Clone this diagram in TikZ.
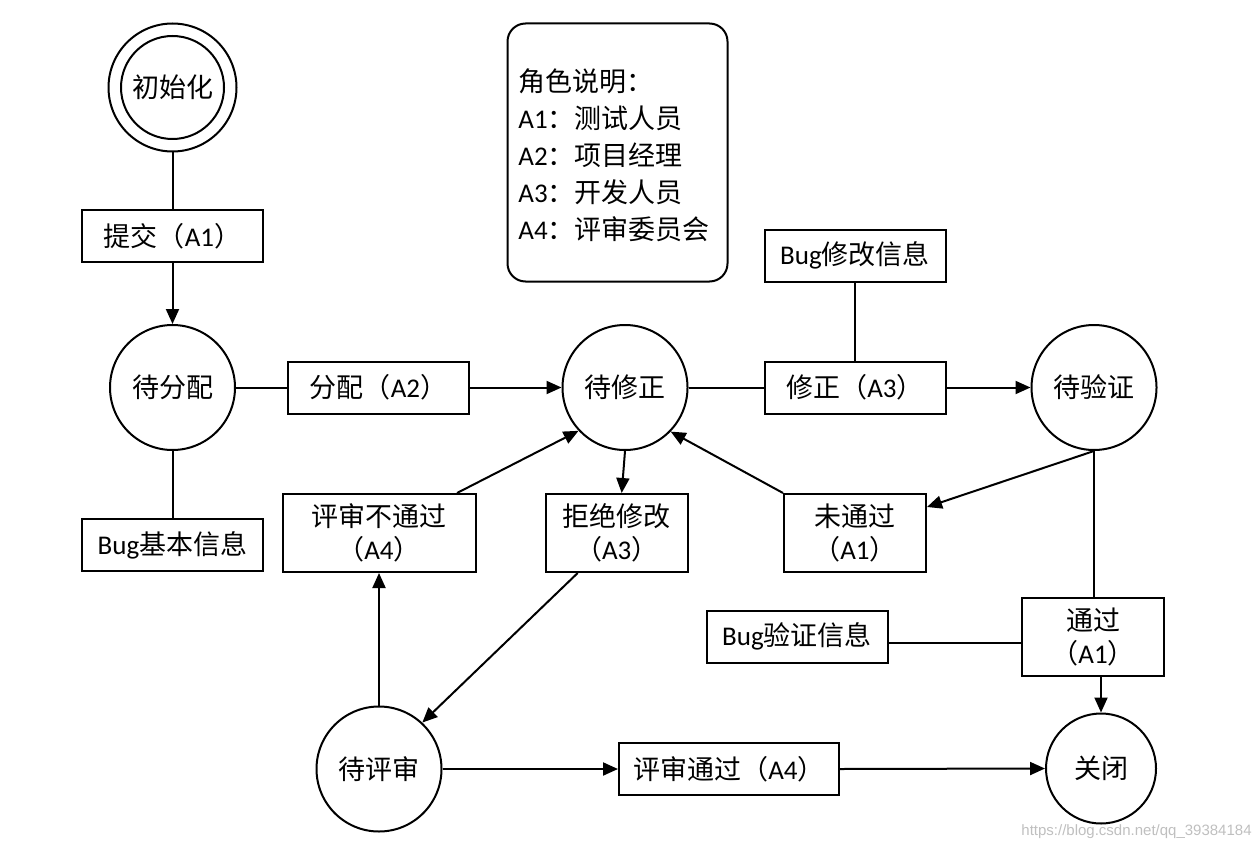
\documentclass[tikz,border=0pt]{standalone}
\usepackage{fontspec}
\setmainfont{Noto Sans CJK SC}
\newfontfamily\lat{Carlito}
\newfontfamily\wm{Liberation Sans}
\usetikzlibrary{arrows.meta,calc}
\begin{document}
\begin{tikzpicture}[x=0.5pt,y=-0.5pt,
  every node/.style={font=\fontsize{13.5}{16.5}\selectfont, inner sep=0pt},
  state/.style={circle, draw, line width=1pt, minimum size=62.5pt},
  rbox/.style={rectangle, draw, line width=1pt, minimum width=#1, minimum height=26pt, align=center},
  rbox/.default=90.5pt,
  tbox/.style={rectangle, draw, line width=1pt, minimum width=#1, minimum height=39pt, align=center},
  tbox/.default=71pt,
  link/.style={line width=1pt},
  arr/.style={line width=1pt, -{Triangle[length=7.5pt,width=6.5pt]}}
]
\useasboundingbox (0,0) rectangle (1256,850);

% states
\node[state, minimum size=64pt] (init) at (172.5,87.5) {};
\node[state, minimum size=51.5pt] (initin) at (172.5,87.5) {初始化};
\node[state] (dfp) at (172.5,387.5) {待分配};
\node[state] (dxz) at (625,387.5) {待修正};
\node[state] (dyz) at (1094,387.5) {待验证};
\node[state] (dps) at (379,769) {待评审};
\node[state, minimum size=55pt] (close) at (1101,768.5) {关闭};

% boxes
\node[rbox] (submit) at (172.5,236) {提交（{\lat A1}）};
\node[rbox] (bugbasic) at (172.5,545) {{\lat Bug}基本信息};
\node[rbox] (assign) at (378.5,387.5) {分配（{\lat A2}）};
\node[rbox] (fix) at (855,387.5) {修正（{\lat A3}）};
\node[rbox] (bugmod) at (855,255.5) {{\lat Bug}修改信息};
\node[tbox=96.5pt] (rej4) at (379,533) {评审不通过\\（{\lat A4}）};
\node[tbox] (reject) at (616.7,533) {拒绝修改\\（{\lat A3}）};
\node[tbox] (notpass) at (855,533) {未通过\\（{\lat A1}）};
\node[tbox] (pass) at (1093,636.7) {通过\\（{\lat A1}）};
\node[rbox] (bugver) at (797,636.7) {{\lat Bug}验证信息};
\node[rbox=110pt] (approve) at (729,769) {评审通过（{\lat A4}）};

% legend
\node[draw, line width=1pt, rounded corners=9pt, minimum width=110pt, minimum height=129pt] (legend) at (617.5,152.5) {};
\node[align=left, anchor=west, font=\fontsize{13.5}{18.5}\selectfont] (legtext) at (518,155)
  {角色说明：\\{\lat A1}：测试人员\\{\lat A2}：项目经理\\{\lat A3}：开发人员\\{\lat A4}：评审委员会};

% connectors
\draw[link] (init.south) -- (submit.north);
\draw[arr] (submit.south) -- (dfp.north);
\draw[link] (dfp.east) -- (assign.west);
\draw[arr] (assign.east) -- (dxz.west);
\draw[link] (dfp.south) -- (bugbasic.north);
\draw[link] (dxz.east) -- (fix.west);
\draw[arr] (fix.east) -- (dyz.west);
\draw[link] (bugmod.south) -- (fix.north);
\draw[arr] (dyz.south) -- ($(notpass.east)+(0,-26)$);
\draw[arr] (notpass.north west) -- (dxz.-44);
\draw[link] (dyz.south) -- (dyz.south |- pass.north);
\draw[arr] (pass.south -| close.north) -- (close.north);
\draw[link] ($(bugver.east)+(0,6)$) -- ($(pass.west)+(0,6)$);
\draw[arr] (dxz.south) -- ($(reject.north)+(5,0)$);
\draw[arr] ($(reject.south)+(-39,0)$) -- (dps.47);
\draw[arr] (dps.north) -- (rej4.south);
\draw[arr] ($(rej4.north)+(78,0)$) -- (dxz.-137);
\draw[arr] (dps.east) -- (approve.west);
\draw[arr] (approve.east) -- (close.west);

% watermark
\node[anchor=east, text=black!25, font=\wm\fontsize{7.5}{9}\selectfont] (wmark) at (1252,832) {https://blog.csdn.net/qq\_39384184};
\end{tikzpicture}
\end{document}
